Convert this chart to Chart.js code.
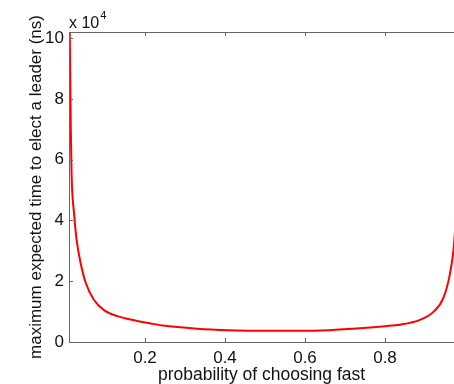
<!DOCTYPE html>
<html>
<head>
<meta charset="utf-8">
<script src="https://cdn.jsdelivr.net/npm/chart.js@4"></script>
<style>
  body { margin: 0; background: #fff; }
</style>
</head>
<body>
<canvas id="leaderChart" width="454" height="384"></canvas>
<script>
// probability of choosing fast (x) and max expected time, in ns (y)
const probFast = [0.0118, 0.013, 0.0145, 0.0165, 0.0225, 0.029, 0.039, 0.052, 0.0725, 0.0975,
  0.131, 0.164, 0.214, 0.245, 0.33, 0.41, 0.495, 0.58, 0.66, 0.746,
  0.8, 0.8375, 0.8875, 0.921, 0.946, 0.9625, 0.971, 0.975];
const maxTimeNs = [103000, 88000, 70000, 55000, 42400, 33600, 26000, 19400, 13800, 10500,
  8500, 7400, 6100, 5400, 4400, 3900, 3700, 3700, 3900, 4600,
  5200, 5700, 7300, 9900, 14500, 22500, 30000, 36000];
const xTicks = [0.2, 0.4, 0.6, 0.8];
const yTicks = [0, 20000, 40000, 60000, 80000, 100000];

const axisColor = '#666';
const fontFamily = '"Liberation Sans", Arial, Helvetica, sans-serif';

// matlab-ish frame: top line + inward ticks, and the "x 10^4" exponent
const framePlugin = {
  id: 'frame',
  afterDraw(chart) {
    const { ctx, chartArea: a, scales } = chart;
    ctx.save();
    ctx.strokeStyle = axisColor;
    ctx.lineWidth = 1;
    ctx.beginPath();
    ctx.moveTo(a.left + 0.5, a.top + 0.5);
    ctx.lineTo(a.right, a.top + 0.5);
    ctx.moveTo(a.left + 0.5, a.top);
    ctx.lineTo(a.left + 0.5, a.bottom + 0.5);
    ctx.lineTo(a.right, a.bottom + 0.5);
    xTicks.forEach(v => {
      const px = Math.round(scales.x.getPixelForValue(v)) + 0.5;
      ctx.moveTo(px, a.bottom);
      ctx.lineTo(px, a.bottom - 4);
      ctx.moveTo(px, a.top);
      ctx.lineTo(px, a.top + 4);
    });
    yTicks.forEach(v => {
      const py = Math.round(scales.y.getPixelForValue(v)) + 0.5;
      ctx.moveTo(a.left, py);
      ctx.lineTo(a.left + 4, py);
    });
    ctx.stroke();

    ctx.fillStyle = '#111';
    ctx.textBaseline = 'alphabetic';
    ctx.textAlign = 'left';
    ctx.font = '16px ' + fontFamily;
    ctx.fillText('x 10', a.left, a.top - 4);
    const w = ctx.measureText('x 10').width;
    ctx.font = '11px ' + fontFamily;
    ctx.fillText('4', a.left + w + 1, a.top - 13);
    ctx.restore();
  }
};

new Chart(document.getElementById('leaderChart'), {
  type: 'line',
  data: {
    datasets: [{
      data: probFast.map((p, i) => ({ x: p, y: maxTimeNs[i] })),
      borderColor: '#ff0000',
      borderWidth: 2,
      pointRadius: 0,
      cubicInterpolationMode: 'monotone',
      fill: false
    }]
  },
  options: {
    responsive: false,
    animation: false,
    devicePixelRatio: 1,
    layout: { padding: { top: 32, right: 0, left: 0, bottom: 0 } },
    plugins: { legend: { display: false }, tooltip: { enabled: false } },
    scales: {
      x: {
        type: 'linear',
        min: 0.01,
        max: 0.9725,
        grid: { display: false, drawTicks: false },
        border: { display: false },
        afterBuildTicks(scale) { scale.ticks = xTicks.map(v => ({ value: v })); },
        ticks: {
          padding: 6,
          color: '#111',
          font: { size: 17, family: fontFamily }
        },
        title: {
          display: true,
          text: 'probability of choosing fast',
          color: '#111',
          font: { size: 17.5, family: fontFamily, lineHeight: 1 },
          padding: { top: 0, bottom: 0 }
        },
        afterFit(scale) { scale.height = 42; }
      },
      y: {
        min: 0,
        max: 102000,
        grid: { display: false, drawTicks: false },
        border: { display: false },
        afterBuildTicks(scale) { scale.ticks = yTicks.map(v => ({ value: v })); },
        ticks: {
          padding: 5,
          color: '#111',
          font: { size: 17, family: fontFamily },
          callback: v => String(v / 10000)
        },
        title: {
          display: true,
          text: 'maximum expected time to elect a leader (ns)',
          color: '#111',
          font: { size: 17, family: fontFamily },
          padding: { top: 26, bottom: 0 }
        },
        afterFit(scale) { scale.width = 69; }
      }
    }
  },
  plugins: [framePlugin]
});
</script>
</body>
</html>
